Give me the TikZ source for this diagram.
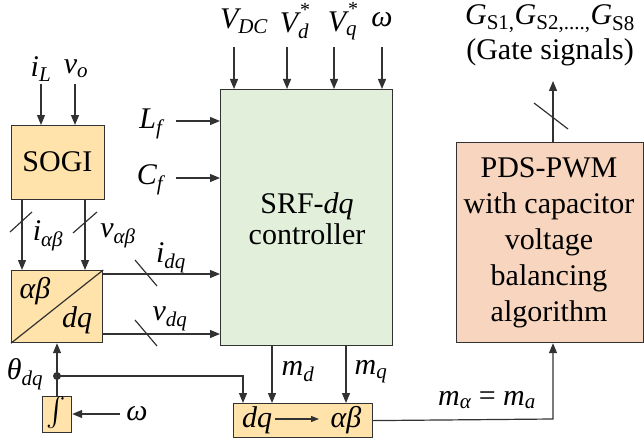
\documentclass[tikz,border=0pt]{standalone}
\usepackage{fontspec}
\setmainfont{Liberation Serif}
\newfontfamily\tnr{Liberation Serif}
\usetikzlibrary{arrows.meta}
\definecolor{sogifill}{RGB}{255,227,170}
\definecolor{ctrlfill}{RGB}{226,239,218}
\definecolor{pdsfill}{RGB}{248,213,190}
\definecolor{ln}{RGB}{50,50,50}
\newcommand{\mysub}[1]{\textsubscript{#1}}
\begin{document}
\begin{tikzpicture}[x=1pt,y=-1pt,
  font=\tnr\fontsize{30}{36}\selectfont,
  blk/.style={draw=ln, line width=1.2pt, inner sep=0pt, anchor=north west},
  wire/.style={draw=ln, line width=1.2pt},
  arr/.style={wire, -{Triangle[length=10pt,width=8pt]}},
  lbl/.style={inner sep=0pt, anchor=center, align=center, font=\tnr\fontsize{30}{36}\selectfont}]
\useasboundingbox (0,0) rectangle (644,441);

% blocks
\node[blk, fill=sogifill, minimum width=93pt, minimum height=74pt] (sogi) at (11,125) {};
\node[lbl] (sogit) at (57.5,162) {SOGI};
\node[blk, fill=sogifill, minimum width=91pt, minimum height=72pt] (ab) at (11,270) {};
\draw[wire] (ab.south west) -- (ab.north east);
\node[lbl] (abt) at (35,291) {\itshape αβ};
\node[lbl] (dqt) at (77,320) {\itshape dq};
\node[blk, fill=sogifill, minimum width=29pt, minimum height=36pt] (integ) at (42,396) {};
\node[lbl] (intt) at (56.5,414) {\scalebox{2.9}{$\int$}};
\node[blk, fill=ctrlfill, minimum width=172pt, minimum height=256pt] (ctrl) at (220,89) {};
\node[lbl, font=\tnr\fontsize{30}{31}\selectfont] (ctrlt) at (307,219) {SRF-{\itshape dq}\\controller};
\node[blk, fill=sogifill, minimum width=139pt, minimum height=34pt] (dqab) at (233,403) {};
\node[lbl] (dqabl) at (257,420) {\itshape dq};
\node[lbl] (dqabr) at (346,420) {\itshape αβ};
\coordinate (dqa1) at (275,419);
\coordinate (dqa2) at (319,419);
\draw[wire, -{Triangle[length=8pt,width=6pt]}] (dqa1) -- (dqa2);
\node[blk, fill=pdsfill, minimum width=187pt, minimum height=200pt] (pds) at (456,142) {};
\node[lbl] (pdst) at (549,243) {PDS-PWM\\with capacitor\\voltage\\balancing\\algorithm};

% SOGI inputs
\node[lbl] (iL) at (41,69) {\itshape i\mysub{L}};
\node[lbl] (vo) at (76,69) {\itshape v\mysub{o}};
\coordinate (iLs) at (41,84);
\coordinate (vos) at (75,84);
\draw[arr] (iLs) -- (iLs |- sogi.north);
\draw[arr] (vos) -- (vos |- sogi.north);

% SOGI -> alpha beta/dq
\coordinate (s1) at (22,199);
\coordinate (s2) at (85,199);
\draw[arr] (s1) -- (s1 |- ab.north);
\draw[arr] (s2) -- (s2 |- ab.north);
\draw[wire] (10,232) -- (32,212);
\draw[wire] (73,233) -- (97,212);
\node[lbl] (iab) at (48,236) {\itshape i\mysub{αβ}};
\node[lbl] (vab) at (118,236) {\itshape v\mysub{αβ}};

% ab/dq -> controller
\coordinate (o1) at (102,274);
\coordinate (o2) at (102,334);
\draw[arr] (o1) -- (o1 -| ctrl.west);
\draw[arr] (o2) -- (o2 -| ctrl.west);
\draw[wire] (135,260) -- (157,286);
\draw[wire] (135,320) -- (157,346);
\node[lbl] (idq) at (171,258) {\itshape i\mysub{dq}};
\node[lbl] (vdq) at (170,319) {\itshape v\mysub{dq}};

% theta
\coordinate (th) at (57,376);
\coordinate (thr) at (243,376);
\draw[arr] (integ.north -| th) -- (th |- ab.south);
\fill[ln] (th) circle (4pt);
\draw[arr] (th) -- (thr) -- (thr |- dqab.north);
\node[lbl] (thl) at (25,374) {\itshape θ\mysub{dq}};
\coordinate (ws) at (120,414);
\draw[arr] (ws) -- (ws -| integ.east);
\node[lbl] (wl) at (137,414) {\itshape ω};

% controller left inputs
\node[lbl] (Lf) at (151,124) {\itshape L\mysub{f}};
\node[lbl] (Cf) at (150,180) {\itshape C\mysub{f}};
\coordinate (Lfs) at (176,121);
\coordinate (Cfs) at (176,178);
\draw[arr] (Lfs) -- (Lfs -| ctrl.west);
\draw[arr] (Cfs) -- (Cfs -| ctrl.west);

% controller top inputs
\node[lbl] (vdc) at (244,21) {\itshape V\mysub{DC}};
\node[lbl] (vd) at (295,21) {\itshape V\mysub{d}\hspace{-0.3em}\raisebox{0.55em}{\upshape\fontsize{20}{20}\selectfont *}};
\node[lbl] (vq) at (343,21) {\itshape V\mysub{q}\hspace{-0.3em}\raisebox{0.55em}{\upshape\fontsize{20}{20}\selectfont *}};
\node[lbl] (wt) at (382,20) {\itshape ω};
\coordinate (t1) at (234,47);
\coordinate (t2) at (287,47);
\coordinate (t3) at (334,47);
\coordinate (t4) at (382,47);
\foreach \c in {t1,t2,t3,t4} \draw[arr] (\c) -- (\c |- ctrl.north);

% controller -> dq/ab
\coordinate (md) at (272,345);
\coordinate (mq) at (346,345);
\draw[arr] (md) -- (md |- dqab.north);
\draw[arr] (mq) -- (mq |- dqab.north);
\node[lbl] (mdl) at (298,372) {\itshape m\mysub{d}};
\node[lbl] (mql) at (371,372) {\itshape m\mysub{q}};

% dq/ab -> PDS
\coordinate (ma) at (553,419);
\draw[arr] (dqab.east) -- (ma) -- (ma |- pds.south);
\node[lbl] (mal) at (487,400) {{\itshape m\mysub{α}} = {\itshape m\mysub{a}}};

% PDS output
\coordinate (po) at (553,81);
\draw[arr] (po |- pds.north) -- (po);
\draw[wire] (534,103) -- (568,129);
\node[lbl] (gs) at (550,19) {{\itshape G}\mysub{S1,}{\itshape G}\mysub{S2,....,}{\itshape G}\mysub{S8}};
\node[lbl] (gsl) at (550,52) {(Gate signals)};
\end{tikzpicture}
\end{document}
